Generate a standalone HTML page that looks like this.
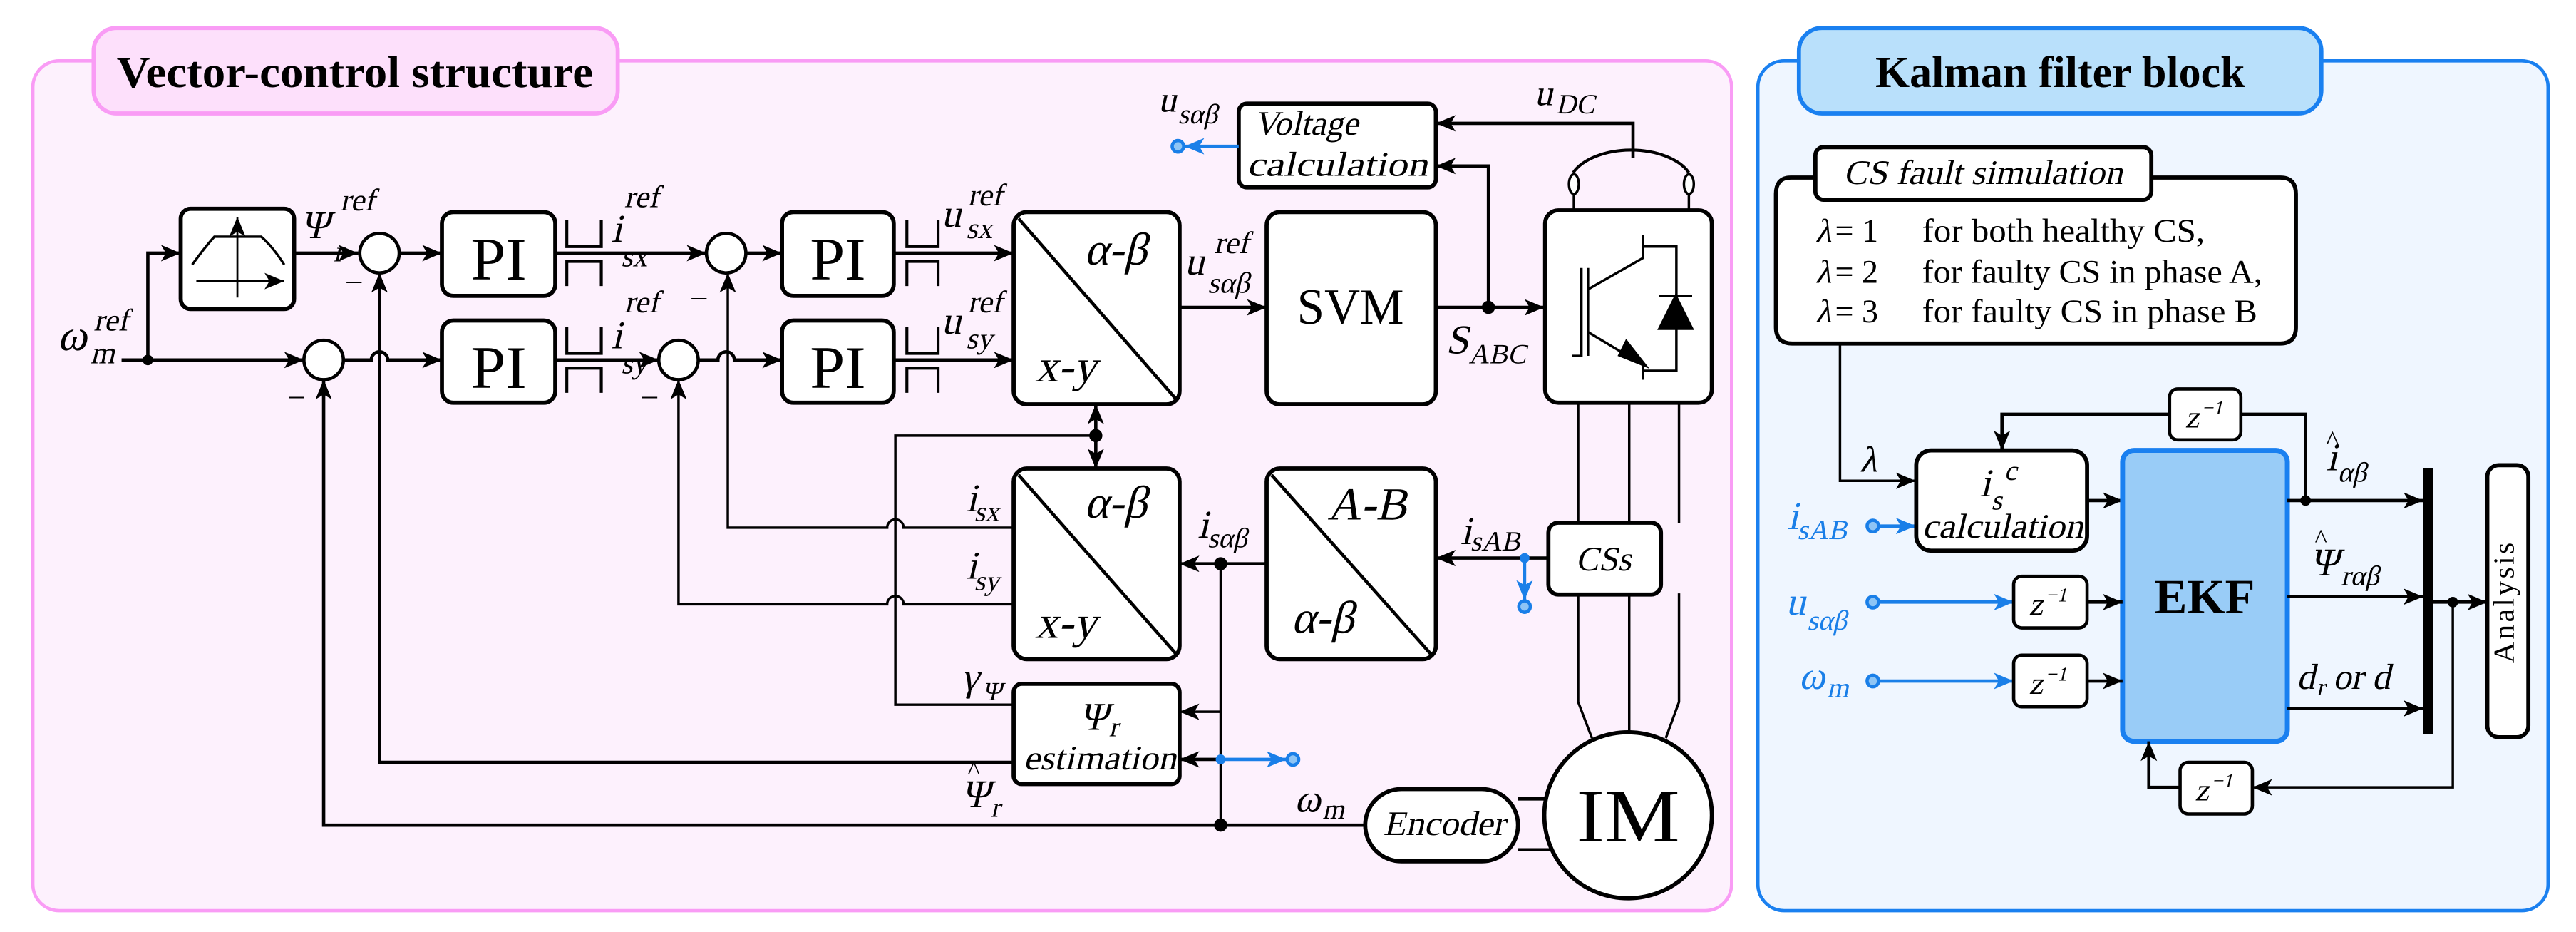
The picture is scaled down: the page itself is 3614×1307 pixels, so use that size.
<!DOCTYPE html>
<html><head><meta charset="utf-8"><style>
html,body{margin:0;padding:0;background:#fff;}
svg{display:block;}
text{font-family:"Liberation Serif","Times New Roman",serif;fill:#000;font-style:normal;}
.b{fill:#1a7fe8;}
</style></head><body>
<svg width="3614" height="1307" viewBox="0 0 1568 567" preserveAspectRatio="none" xmlns="http://www.w3.org/2000/svg" font-family="Liberation Serif, serif">
<defs>
<marker id="a" markerUnits="userSpaceOnUse" markerWidth="12" markerHeight="10" refX="12" refY="5" orient="auto"><path d="M0,0 L12,5 L0,10 L3,5 z" fill="#000"/></marker>
<marker id="ab" markerUnits="userSpaceOnUse" markerWidth="12" markerHeight="10" refX="12" refY="5" orient="auto"><path d="M0,0 L12,5 L0,10 L3,5 z" fill="#1a7fe8"/></marker>
</defs>
<!-- panels -->
<rect x="20" y="37" width="1034" height="517" rx="16" fill="#fdf1fd" stroke="#f99cf5" stroke-width="2"/>
<rect x="57" y="17" width="319" height="52" rx="14" fill="#fde0fb" stroke="#f99cf5" stroke-width="2.5"/>
<text x="216" y="53" font-size="27" font-weight="bold" text-anchor="middle" textLength="290" lengthAdjust="spacingAndGlyphs">Vector-control structure</text>
<rect x="1070" y="37" width="481" height="517" rx="16" fill="#eff6ff" stroke="#1a80f0" stroke-width="2"/>
<rect x="1095" y="17" width="318" height="52" rx="14" fill="#b9e0fb" stroke="#1a80f0" stroke-width="2.5"/>
<text x="1254" y="53" font-size="27" font-weight="bold" text-anchor="middle" textLength="225" lengthAdjust="spacingAndGlyphs">Kalman filter block</text>

<g stroke="#000" fill="none" stroke-width="2">
<path d="M74,219 H185" marker-end="url(#a)"/>
<path d="M90,219 V154 H110" marker-end="url(#a)"/>
<rect x="110" y="127" width="69" height="61" rx="6" fill="#fff" stroke-width="2.5"/>
<path d="M179,154 H218" marker-end="url(#a)"/>
<ellipse cx="231" cy="154" rx="12" ry="12" fill="#fff"/>
<ellipse cx="197" cy="219" rx="12" ry="12" fill="#fff"/>
<ellipse cx="442" cy="154" rx="12" ry="12" fill="#fff"/>
<ellipse cx="413" cy="219" rx="12" ry="12" fill="#fff"/>
<path d="M243,154 H269" marker-end="url(#a)"/>
<path d="M209,219 H226 a5,5 0 0 1 10,0 H269" marker-end="url(#a)"/>
<path d="M338,154 H430" marker-end="url(#a)"/>
<path d="M338,219 H401" marker-end="url(#a)"/>
<path d="M454,154 H476" marker-end="url(#a)"/>
<path d="M425,219 H437 a5,5 0 0 1 10,0 H476" marker-end="url(#a)"/>
<path d="M544,154 H617" marker-end="url(#a)"/>
<path d="M544,219 H617" marker-end="url(#a)"/>
<rect x="269" y="129" width="69" height="51" rx="7" fill="#fff" stroke-width="2.5"/>
<rect x="269" y="195" width="69" height="50" rx="7" fill="#fff" stroke-width="2.5"/>
<rect x="476" y="129" width="68" height="51" rx="7" fill="#fff" stroke-width="2.5"/>
<rect x="476" y="195" width="68" height="50" rx="7" fill="#fff" stroke-width="2.5"/>
<path d="M345,134 V150 H366 V134 M345,174 V159 H366 V174" stroke-width="1.8"/>
<path d="M345,199 V215 H366 V199 M345,239 V224 H366 V239" stroke-width="1.8"/>
<path d="M552,134 V150 H571 V134 M552,174 V159 H571 V174" stroke-width="1.8"/>
<path d="M552,199 V215 H571 V199 M552,239 V224 H571 V239" stroke-width="1.8"/>
<rect x="617" y="129" width="101" height="117" rx="8" fill="#fff" stroke-width="2.5"/>
<path d="M620,133 L716,243" stroke-width="2"/>
<rect x="617" y="285" width="101" height="116" rx="8" fill="#fff" stroke-width="2.5"/>
<path d="M620,289 L716,398" stroke-width="2"/>
<rect x="771" y="285" width="103" height="116" rx="8" fill="#fff" stroke-width="2.5"/>
<path d="M774,289 L871,398" stroke-width="2"/>
<rect x="771" y="129" width="103" height="117" rx="8" fill="#fff" stroke-width="2.5"/>
<rect x="754" y="63" width="120" height="51" rx="5" fill="#fff" stroke-width="2.5"/>
<rect x="617" y="416" width="101" height="61" rx="5" fill="#fff" stroke-width="2.5"/>
<path d="M718,187 H771" marker-end="url(#a)"/>
<path d="M874,187 H940" marker-end="url(#a)"/>
<path d="M906,187 V101 H874" marker-end="url(#a)"/>
<circle cx="906" cy="187" r="3" fill="#000"/>
<path d="M994,96 V75 H874" marker-end="url(#a)"/>
<path d="M667,265 V246" marker-end="url(#a)"/>
<path d="M667,265 V285" marker-end="url(#a)"/>
<circle cx="667" cy="265" r="3" fill="#000"/>
<path d="M667,265 H545 V428.7 H617" stroke-width="1.5"/>
<path d="M617,321 H550 a5,5 0 0 0 -10,0 H443 V166" stroke-width="1.5" marker-end="url(#a)"/>
<path d="M617,367.6 H550 a5,5 0 0 0 -10,0 H413 V231" stroke-width="1.5" marker-end="url(#a)"/>
<path d="M617,463.8 H231 V166" stroke-width="2" marker-end="url(#a)"/>
<path d="M831,502 H197 V231" stroke-width="2" marker-end="url(#a)"/>
<circle cx="743" cy="502" r="3" fill="#000"/>
<path d="M771,343 H718" marker-end="url(#a)"/>
<circle cx="743" cy="343" r="3" fill="#000"/>
<path d="M743,343 V433 H718" stroke-width="1.5" marker-end="url(#a)"/>
<path d="M743,462 H718" marker-end="url(#a)"/>
<path d="M743,433 V502" stroke-width="1.5"/>
<rect x="940.5" y="128" width="101.5" height="117" rx="8" fill="#fff" stroke-width="2.5"/>
<path d="M957.6,105 A38,22 0 0 1 1028,105" stroke-width="1.8"/>
<ellipse cx="958" cy="112" rx="3" ry="6" fill="#fff" stroke-width="1.5"/>
<ellipse cx="1028" cy="112" rx="3" ry="6" fill="#fff" stroke-width="1.5"/>
<path d="M958,118 V128 M1028,118 V128" stroke-width="1.5"/>
<path d="M962.6,163 V216.5 H957 M966.6,163 V216.5" stroke-width="1.5"/>
<path d="M966.6,176 L1000,157 V143 M966.6,202 L1000,222 V231 M1000,150 H1020.4 V225.6 H1000" stroke-width="1.5"/>
<path d="M1001,222 L990,208 L986,216 z" fill="#000"/>
<path d="M1010,200 H1030 L1020,180 z M1010,180 H1030" fill="#000" stroke-width="1.5"/>
<path d="M960.6,245 V318 M991.7,245 V318 M1022,245 V318" stroke-width="1.5"/>
<path d="M960.6,361 V427 L969,449 M991.7,361 V449 M1022,361 V427 L1014,449" stroke-width="1.5"/>
<rect x="942.5" y="318" width="68.5" height="43.7" rx="6" fill="#fff" stroke-width="2.5"/>
<path d="M942.5,339.5 H874" marker-end="url(#a)"/>
<path d="M924,486 H945 M924,517 H945" stroke-width="2"/>
<ellipse cx="991" cy="496" rx="51" ry="50.5" fill="#fff" stroke-width="2.5"/>
<rect x="831" y="480" width="93" height="44" rx="22" fill="#fff" stroke-width="2.5"/>
<path d="M144.5,181 V132" stroke-width="1.2" marker-end="url(#a)"/>
<path d="M119.5,171 H173" stroke-width="1.5" marker-end="url(#a)"/>
<path d="M117,161 Q125,150 130.5,144 H159 Q166,150 173,161" stroke-width="1.5"/>
</g>
<circle cx="90" cy="219" r="3.2" fill="#000"/>
<g stroke="#1a7fe8" stroke-width="2" fill="none">
<path d="M754,89 H721" marker-end="url(#ab)"/>
<circle cx="717" cy="89" r="3.5" fill="#8ec5f5"/>
<path d="M743,462 H783" marker-end="url(#ab)"/>
<circle cx="787" cy="462" r="3.5" fill="#8ec5f5"/>
<path d="M928,339.5 V365" marker-end="url(#ab)"/>
<circle cx="928" cy="369" r="3.5" fill="#8ec5f5"/>
<path d="M1144,320 H1166" marker-end="url(#ab)"/>
<circle cx="1140" cy="320" r="3.5" fill="#8ec5f5"/>
<path d="M1144,366.3 H1225.7" marker-end="url(#ab)"/>
<circle cx="1140" cy="366.3" r="3.5" fill="#8ec5f5"/>
<path d="M1144,414.3 H1225.7" marker-end="url(#ab)"/>
<circle cx="1140" cy="414.3" r="3.5" fill="#8ec5f5"/>
</g>
<circle cx="743" cy="462" r="3" fill="#1a7fe8"/>
<circle cx="928" cy="339.5" r="3" fill="#1a7fe8"/>

<g stroke="#000" fill="none" stroke-width="2">
<path d="M1120,209 V292.5 H1166" stroke-width="1.5" marker-end="url(#a)"/>
<path d="M1105,108 H1090 Q1081,108 1081,118 V199 Q1081,209 1091,209 H1388 Q1397.5,209 1397.5,199 V118 Q1397.5,108 1388,108 H1309.5" stroke-width="2.5" fill="#fff"/>
<rect x="1105" y="89.5" width="204.5" height="32" rx="5" fill="#fff" stroke-width="2.5"/>
<path d="M1403.4,304.5 V252 H1364 M1320.6,252 H1218.6 V274" stroke-width="2" marker-end="url(#a)"/>
<rect x="1320.6" y="236.6" width="43.4" height="31" rx="5" fill="#fff" stroke-width="2"/>
<rect x="1166.4" y="274" width="104" height="61" rx="9" fill="#fff" stroke-width="2.5"/>
<path d="M1270.4,304.5 H1292" marker-end="url(#a)"/>
<rect x="1292" y="274" width="100.3" height="177" rx="7" fill="#99ccf7" stroke="#1a80f0" stroke-width="3"/>
<rect x="1225.7" y="350.6" width="44.7" height="31.4" rx="5" fill="#fff"/>
<rect x="1225.7" y="398.6" width="44.7" height="31.4" rx="5" fill="#fff"/>
<path d="M1270.4,366.3 H1292" marker-end="url(#a)"/>
<path d="M1270.4,414.3 H1292" marker-end="url(#a)"/>
<path d="M1392.3,304.5 H1475" marker-end="url(#a)"/>
<path d="M1392.3,363 H1475" marker-end="url(#a)"/>
<path d="M1392.3,431 H1475" marker-end="url(#a)"/>
<path d="M1481,366.3 H1514" marker-end="url(#a)"/>
<path d="M1493,366.3 V479 H1371" stroke-width="1.5" marker-end="url(#a)"/>
<rect x="1327" y="463.8" width="44" height="31.4" rx="5" fill="#fff"/>
<path d="M1327,479 H1308 V451" stroke-width="2" marker-end="url(#a)"/>
<rect x="1514" y="283" width="25" height="165.5" rx="7" fill="#fff" stroke-width="2.5"/>
</g>
<rect x="1475" y="285" width="6" height="161.6" fill="#000"/>
<circle cx="1403.4" cy="304.5" r="3.2" fill="#000"/>
<circle cx="1493" cy="366.3" r="3.2" fill="#000"/>

<!-- ITALIC TEXT (synthetic slant) -->
<g>
<text transform="translate(35 213) skewX(-13)" font-size="27">ω</text>
<text transform="translate(55 221) skewX(-13)" font-size="19">m</text>
<text transform="translate(57 201) skewX(-13)" font-size="19">ref</text>
<text transform="translate(183 145) skewX(-13)" font-size="24">Ψ</text>
<text transform="translate(203 159) skewX(-13)" font-size="18">r</text>
<text transform="translate(207 128) skewX(-13)" font-size="19">ref</text>
<text transform="translate(372 147) skewX(-13)" font-size="24">i</text>
<text transform="translate(378 162) skewX(-13)" font-size="18">sx</text>
<text transform="translate(380 126) skewX(-13)" font-size="19">ref</text>
<text transform="translate(372 212) skewX(-13)" font-size="24">i</text>
<text transform="translate(378 227) skewX(-13)" font-size="18">sy</text>
<text transform="translate(380 190) skewX(-13)" font-size="19">ref</text>
<text transform="translate(573 138) skewX(-13)" font-size="24">u</text>
<text transform="translate(588 145) skewX(-13)" font-size="18">sx</text>
<text transform="translate(589 125) skewX(-13)" font-size="19">ref</text>
<text transform="translate(573 203) skewX(-13)" font-size="24">u</text>
<text transform="translate(588 212) skewX(-13)" font-size="18">sy</text>
<text transform="translate(589 190) skewX(-13)" font-size="19">ref</text>
<text transform="translate(721 167) skewX(-13)" font-size="24">u</text>
<text transform="translate(735 178) skewX(-13)" font-size="18">sαβ</text>
<text transform="translate(739 154) skewX(-13)" font-size="19">ref</text>
<text transform="translate(660 161) skewX(-13)" font-size="28">α-β</text>
<text transform="translate(630 232) skewX(-13)" font-size="28">x-y</text>
<text transform="translate(660 315) skewX(-13)" font-size="28">α-β</text>
<text transform="translate(630 388) skewX(-13)" font-size="28">x-y</text>
<text transform="translate(808 316) skewX(-13)" font-size="28">A-B</text>
<text transform="translate(786 385) skewX(-13)" font-size="28">α-β</text>
<text transform="translate(705 68) skewX(-13)" font-size="22">u</text>
<text transform="translate(717 75) skewX(-13)" font-size="17">sαβ</text>
<text transform="translate(763 82) skewX(-13)" font-size="21">Voltage</text>
<text transform="translate(759 107) skewX(-13)" font-size="21" textLength="110" lengthAdjust="spacingAndGlyphs">calculation</text>
<text transform="translate(934 64) skewX(-13)" font-size="22">u</text>
<text transform="translate(947 69) skewX(-13)" font-size="17">DC</text>
<text transform="translate(880 215) skewX(-13)" font-size="25">S</text>
<text transform="translate(894 221) skewX(-13)" font-size="17">ABC</text>
<text transform="translate(588 311) skewX(-13)" font-size="24">i</text>
<text transform="translate(593 317) skewX(-13)" font-size="17">sx</text>
<text transform="translate(588 352) skewX(-13)" font-size="24">i</text>
<text transform="translate(593 359) skewX(-13)" font-size="17">sy</text>
<text transform="translate(729 327) skewX(-13)" font-size="24">i</text>
<text transform="translate(735 333) skewX(-13)" font-size="17">sαβ</text>
<text transform="translate(889 331) skewX(-13)" font-size="24">i</text>
<text transform="translate(895 335) skewX(-13)" font-size="17">sAB</text>
<text transform="translate(585 420) skewX(-13)" font-size="24">γ</text>
<text transform="translate(598 426) skewX(-13)" font-size="16">Ψ</text>
<text transform="translate(657 444) skewX(-13)" font-size="24">Ψ</text>
<text transform="translate(675 448) skewX(-13)" font-size="17">r</text>
<text transform="translate(623 468) skewX(-13)" font-size="21" textLength="93" lengthAdjust="spacingAndGlyphs">estimation</text>
<text transform="translate(585 491) skewX(-13)" font-size="24">Ψ</text>
<text transform="translate(589 474)" font-size="16">^</text>
<text transform="translate(603 497) skewX(-13)" font-size="17">r</text>
<text transform="translate(959 347) skewX(-13)" font-size="21">CSs</text>
<text transform="translate(788 494) skewX(-13)" font-size="24">ω</text>
<text transform="translate(805 498) skewX(-13)" font-size="17">m</text>
<text transform="translate(842 508) skewX(-13)" font-size="21" textLength="74" lengthAdjust="spacingAndGlyphs">Encoder</text>
<text transform="translate(1122 112) skewX(-13)" font-size="21" textLength="170" lengthAdjust="spacingAndGlyphs">CS fault simulation</text>
<text transform="translate(1132 287) skewX(-13)" font-size="22">λ</text>
<text transform="translate(1205 302) skewX(-13)" font-size="24">i</text>
<text transform="translate(1212 310) skewX(-13)" font-size="17">s</text>
<text transform="translate(1220 292) skewX(-13)" font-size="17">c</text>
<text transform="translate(1170 327) skewX(-13)" font-size="21" textLength="98" lengthAdjust="spacingAndGlyphs">calculation</text>
<text transform="translate(1088 322) skewX(-13)" font-size="24" class="b">i</text>
<text transform="translate(1094 328) skewX(-13)" font-size="17" class="b">sAB</text>
<text transform="translate(1087 374) skewX(-13)" font-size="24" class="b">u</text>
<text transform="translate(1100 383) skewX(-13)" font-size="17" class="b">sαβ</text>
<text transform="translate(1095 419) skewX(-13)" font-size="24" class="b">ω</text>
<text transform="translate(1112 424) skewX(-13)" font-size="17" class="b">m</text>
<text transform="translate(1416 286) skewX(-13)" font-size="24">i</text>
<text transform="translate(1416 273)" font-size="16">^</text>
<text transform="translate(1423 293) skewX(-13)" font-size="17">αβ</text>
<text transform="translate(1406 350) skewX(-13)" font-size="24">Ψ</text>
<text transform="translate(1409 333)" font-size="16">^</text>
<text transform="translate(1425 356) skewX(-13)" font-size="17">rαβ</text>
<text transform="translate(1398 419) skewX(-13)" font-size="22">d</text>
<text transform="translate(1410 423) skewX(-13)" font-size="15">r</text>
<text transform="translate(1420 419) skewX(-13)" font-size="22">or d</text>
<text transform="translate(1330 260) skewX(-13)" font-size="19">z<tspan font-size="12" dy="-8">−1</tspan></text>
<text transform="translate(1235 374) skewX(-13)" font-size="19">z<tspan font-size="12" dy="-8">−1</tspan></text>
<text transform="translate(1235 422) skewX(-13)" font-size="19">z<tspan font-size="12" dy="-8">−1</tspan></text>
<text transform="translate(1336 487) skewX(-13)" font-size="19">z<tspan font-size="12" dy="-8">−1</tspan></text>
<text transform="translate(1105 147) skewX(-13)" font-size="20">λ</text>
<text transform="translate(1105 172) skewX(-13)" font-size="20">λ</text>
<text transform="translate(1105 196) skewX(-13)" font-size="20">λ</text>
</g>
<g>
<text x="303.5" y="170" font-size="37" text-anchor="middle" textLength="34" lengthAdjust="spacingAndGlyphs">PI</text>
<text x="303.5" y="236" font-size="37" text-anchor="middle" textLength="34" lengthAdjust="spacingAndGlyphs">PI</text>
<text x="510" y="170" font-size="37" text-anchor="middle" textLength="34" lengthAdjust="spacingAndGlyphs">PI</text>
<text x="510" y="236" font-size="37" text-anchor="middle" textLength="34" lengthAdjust="spacingAndGlyphs">PI</text>
<text x="822" y="197" font-size="31" text-anchor="middle" textLength="65" lengthAdjust="spacingAndGlyphs">SVM</text>
<text x="991" y="512" font-size="46" text-anchor="middle" textLength="63" lengthAdjust="spacingAndGlyphs">IM</text>
<text x="1342" y="373" font-size="30" font-weight="bold" text-anchor="middle" textLength="61" lengthAdjust="spacingAndGlyphs">EKF</text>
<text x="1526" y="366" font-size="18" text-anchor="middle" transform="rotate(-90 1526 366)" dominant-baseline="middle" letter-spacing="1.5">Analysis</text>
<text x="1117" y="147" font-size="20">= 1</text>
<text x="1170" y="147" font-size="20" textLength="172" lengthAdjust="spacingAndGlyphs">for both healthy CS,</text>
<text x="1117" y="172" font-size="20">= 2</text>
<text x="1170" y="172" font-size="20" textLength="207" lengthAdjust="spacingAndGlyphs">for faulty CS in phase A,</text>
<text x="1117" y="196" font-size="20">= 3</text>
<text x="1170" y="196" font-size="20" textLength="204" lengthAdjust="spacingAndGlyphs">for faulty CS in phase B</text>
<text x="211" y="176" font-size="18">–</text>
<text x="176" y="246" font-size="18">–</text>
<text x="421" y="186" font-size="18">–</text>
<text x="391" y="246" font-size="18">–</text>
</g>
</svg>
</body></html>
